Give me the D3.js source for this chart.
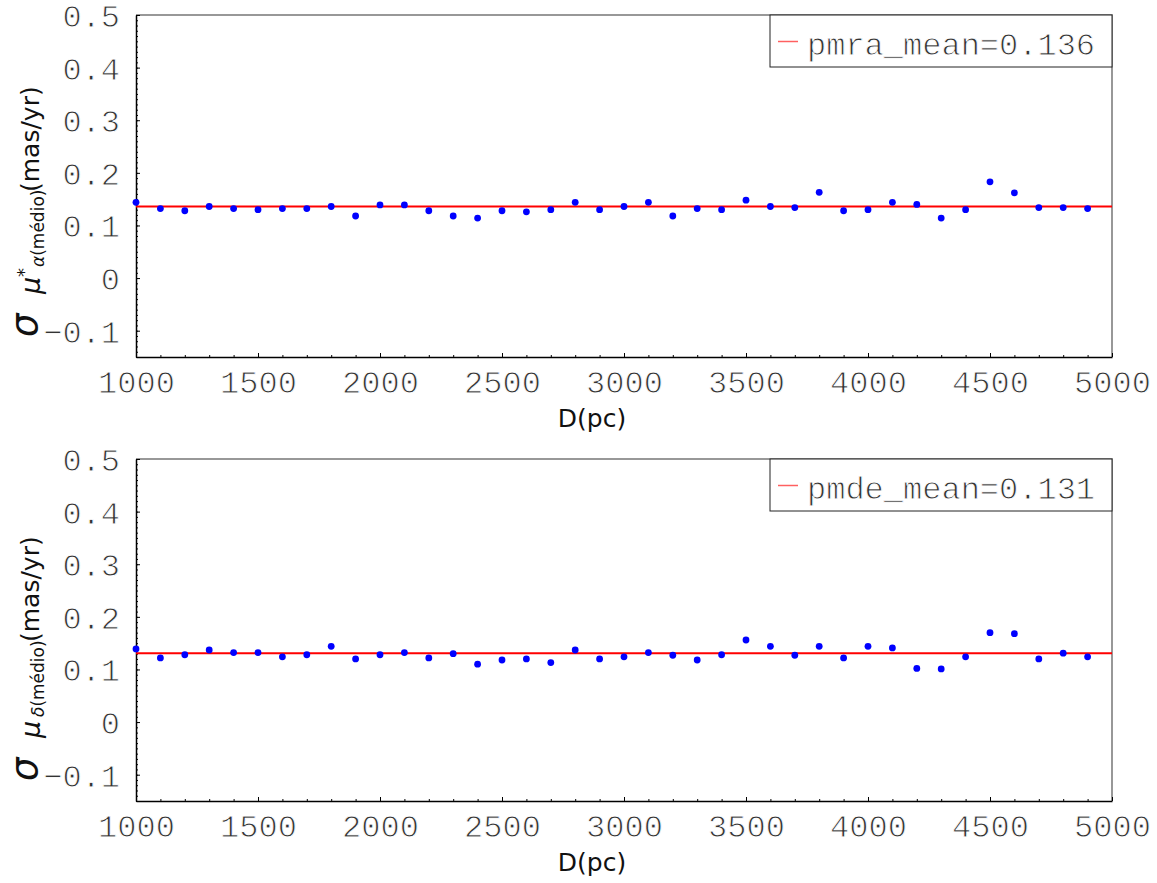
<!DOCTYPE html>
<html>
<head>
<meta charset="utf-8">
<script src="https://cdn.jsdelivr.net/npm/d3@7"></script>
<style>
  body { margin: 0; background: #fff; }
  svg { display: block; }
  .mono { font-family: 'Liberation Mono', 'Courier New', monospace; font-size: 32px; fill: #333;
          stroke: #fff; stroke-width: 0.9px; }
</style>
</head>
<body>
<div id="vis"></div>
<script>
// data
var distances = [1000, 1100, 1200, 1300, 1400, 1500, 1600, 1700, 1800, 1900,
                 2000, 2100, 2200, 2300, 2400, 2500, 2600, 2700, 2800, 2900,
                 3000, 3100, 3200, 3300, 3400, 3500, 3600, 3700, 3800, 3900,
                 4000, 4100, 4200, 4300, 4400, 4500, 4600, 4700, 4800, 4900]

var pmraSigma = [0.144, 0.132, 0.128, 0.136, 0.132, 0.130, 0.132, 0.132, 0.136, 0.118,
                 0.139, 0.139, 0.128, 0.118, 0.114, 0.128, 0.126, 0.130, 0.144, 0.130,
                 0.136, 0.144, 0.118, 0.132, 0.130, 0.148, 0.136, 0.134, 0.163, 0.128,
                 0.130, 0.144, 0.140, 0.114, 0.130, 0.183, 0.162, 0.134, 0.134, 0.132]

var pmdeSigma = [0.139, 0.122, 0.128, 0.137, 0.132, 0.132, 0.124, 0.128, 0.144, 0.120,
                 0.128, 0.132, 0.122, 0.130, 0.110, 0.118, 0.120, 0.113, 0.137, 0.120,
                 0.124, 0.132, 0.127, 0.118, 0.128, 0.156, 0.144, 0.127, 0.144, 0.122,
                 0.144, 0.141, 0.102, 0.101, 0.124, 0.170, 0.168, 0.120, 0.131, 0.124]

var pmraMean = 0.136
var pmdeMean = 0.131

var xTicks = [1000, 1500, 2000, 2500, 3000, 3500, 4000, 4500, 5000]
var yTicks = [-0.1, 0, 0.1, 0.2, 0.3, 0.4, 0.5]

// measurements
var width = 1157, height = 883
var left = 136, right = 1112
var panelH = 342
var panelTops = [15, 459]
var sans = "'DejaVu Sans', sans-serif"

var x = d3.scaleLinear()
  .domain([1000, 5000])
  .range([left, right])

var svg = d3.select("#vis")
  .append("svg")
  .attr("width", width)
  .attr("height", height)

function panel(top, values, mean, legendText, subLetter, star) {
  var y = d3.scaleLinear()
    .domain([-0.15, 0.5])
    .range([top + panelH, top])

  var g = svg.append("g")

  // top/right frame (gray)
  g.append("path")
    .attr("d", `M${left},${top}H${right}V${top + panelH}`)
    .attr("fill", "none")
    .attr("stroke", "#777")
    .attr("stroke-width", 1.5)

  // minor ticks
  g.append("g")
    .attr("transform", `translate(0,${top + panelH})`)
    .call(d3.axisBottom(x).tickValues(distances.concat([5000])).tickSize(-2).tickFormat(""))
    .call(a => a.select(".domain").remove())
  var minorY = d3.range(-15, 51).map(v => v / 100)
  g.append("g")
    .attr("transform", `translate(${left},0)`)
    .call(d3.axisLeft(y).tickValues(minorY).tickSize(-2).tickFormat(""))
    .call(a => a.select(".domain").remove())

  // x axis
  var xa = g.append("g")
    .attr("transform", `translate(0,${top + panelH})`)
    .call(d3.axisBottom(x).tickValues(xTicks).tickSize(-4).tickSizeOuter(0).tickFormat(d3.format("d")))
  xa.select(".domain").attr("stroke-width", 1.5)
  xa.selectAll("text")
    .attr("y", 36).attr("dy", null)
    .attr("class", "mono")
    .attr("fill", null)

  // y axis
  var ya = g.append("g")
    .attr("transform", `translate(${left},0)`)
    .call(d3.axisLeft(y).tickValues(yTicks).tickSize(-4).tickSizeOuter(0).tickPadding(16).tickFormat(d3.format("")))
  ya.select(".domain").attr("stroke-width", 1.5)
  ya.selectAll("text")
    .attr("dy", "0.36em")
    .attr("class", "mono")
    .attr("fill", null)

  // mean line
  g.append("line")
    .attr("x1", left).attr("x2", right)
    .attr("y1", y(mean)).attr("y2", y(mean))
    .attr("stroke", "#ff0000")
    .attr("stroke-width", 2)

  // points
  g.selectAll("circle")
    .data(values)
    .enter()
    .append("circle")
    .attr("cx", (d, i) => x(distances[i]))
    .attr("cy", d => y(d))
    .attr("r", 3.4)
    .attr("fill", "#0000ff")

  // legend
  var lx = 770, lw = right - lx, lh = 52
  g.append("rect")
    .attr("x", lx).attr("y", top)
    .attr("width", lw).attr("height", lh)
    .attr("fill", "#fff")
    .attr("stroke", "#222")
    .attr("stroke-width", 1)
  g.append("line")
    .attr("x1", lx + 8).attr("x2", lx + 28)
    .attr("y1", top + 26.5).attr("y2", top + 26.5)
    .attr("stroke", "#ff6060")
    .attr("stroke-width", 1.5)
  g.append("text")
    .attr("x", lx + 37).attr("y", top + 40)
    .attr("class", "mono")
    .text(legendText)

  // x label
  g.append("text")
    .attr("x", 592).attr("y", top + 412)
    .attr("text-anchor", "middle")
    .style("font-family", sans).style("font-size", "25px")
    .attr("fill", "#111")
    .text("D(pc)")

  // y label
  var yl = g.append("text")
    .attr("transform", `translate(37,${top + 322}) rotate(-90)`)
    .style("font-family", sans)
    .attr("fill", "#111")
  yl.append("tspan").attr("x", 0).attr("y", 0)
    .style("font-size", "37px").style("font-style", "italic").text("σ")
  yl.append("tspan").attr("x", 43).attr("y", 3)
    .style("font-size", "27px").style("font-style", "italic").text("μ")
  if (star) {
    yl.append("tspan").attr("x", 60).attr("y", -7)
      .style("font-size", "18px").text("*")
  }
  yl.append("tspan").attr("x", star ? 70 : 64).attr("y", 7)
    .style("font-size", "17px").style("font-style", "italic").text(subLetter)
  yl.append("tspan").attr("y", 7)
    .style("font-size", "17px").text("(médio)")
  yl.append("tspan").attr("x", star ? 145 : 139).attr("y", 2)
    .style("font-size", "25px").text("(mas/yr)")
}

panel(panelTops[0], pmraSigma, pmraMean, "pmra_mean=0.136", "α", true)
panel(panelTops[1], pmdeSigma, pmdeMean, "pmde_mean=0.131", "δ", false)
</script>
</body>
</html>
